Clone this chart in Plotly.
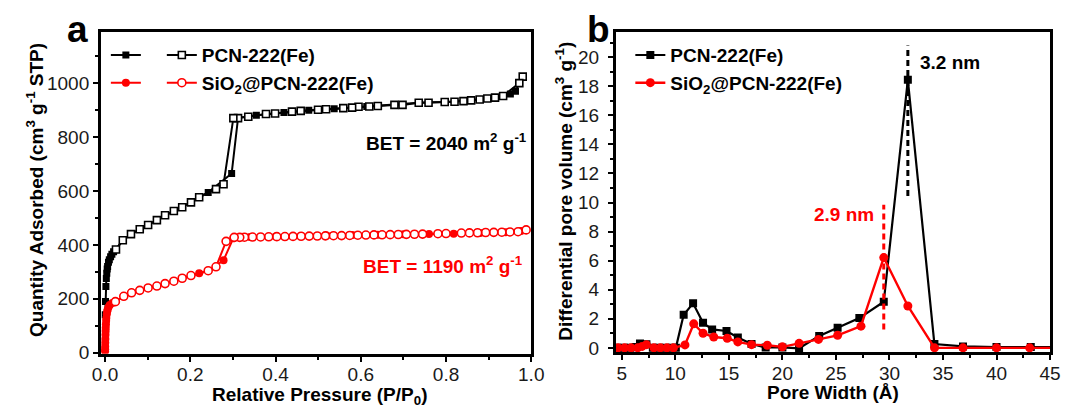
import plotly.graph_objects as go

# ---------------- Panel a : N2 isotherms ----------------
pcn_ads_p = [0.0005, 0.001, 0.002, 0.003, 0.004, 0.005, 0.006, 0.008, 0.010, 0.013, 0.016, 0.020, 0.0256,
             0.0416, 0.0608, 0.0814, 0.101, 0.1216, 0.1408, 0.1614, 0.181, 0.2016, 0.2208, 0.242, 0.297, 0.312,
             0.355, 0.4197, 0.478, 0.5376, 0.614, 0.679, 0.736, 0.797, 0.859, 0.915, 0.951, 0.963, 0.980]
pcn_ads_q = [140, 190, 245, 275, 295, 310, 320, 335, 345, 356, 365, 374, 383,
             417, 440, 458, 474, 492, 510, 526, 540, 558, 577, 595, 665, 871,
             882, 892, 900, 906, 914, 920, 928, 931, 937, 947, 961, 971, 1025]

pcn_des_p = [0.980, 0.972, 0.934, 0.915, 0.897, 0.879, 0.859, 0.841, 0.820, 0.797, 0.759, 0.736, 0.698, 0.679,
             0.640, 0.620, 0.5947, 0.5797, 0.559, 0.5186, 0.4997, 0.459, 0.4386, 0.399, 0.3776, 0.336, 0.312,
             0.301, 0.278, 0.2603, 0.2208, 0.2016, 0.181, 0.1614, 0.1408, 0.1216, 0.101, 0.0814, 0.0608,
             0.0416, 0.0256]
pcn_des_q = [1025, 1001, 953, 947, 944, 940, 937, 934, 932, 931, 928, 928, 920, 920,
             916, 914, 913, 910, 908, 904, 902, 898, 895, 888, 886, 876, 871,
             871, 625, 607, 577, 558, 540, 526, 510, 492, 474, 458, 440,
             417, 383]

sio2_ads_p = [0.0001, 0.0002, 0.0003, 0.0005, 0.0007, 0.001, 0.0013, 0.0016, 0.002, 0.0025, 0.003, 0.004,
              0.005, 0.006, 0.008, 0.011, 0.017, 0.0242, 0.0439, 0.0622, 0.0814, 0.101, 0.1216, 0.1408,
              0.1614, 0.181, 0.2016, 0.2208, 0.242, 0.278, 0.301, 0.340, 0.400, 0.460, 0.520, 0.580, 0.640,
              0.700, 0.760, 0.818, 0.880, 0.940, 0.976]
sio2_ads_q = [5, 12, 22, 36, 50, 66, 80, 92, 105, 118, 128, 142,
              152, 159, 168, 177, 184, 189, 209, 222, 231, 240, 247, 256,
              265, 276, 286, 294.5, 304, 343, 425, 429, 431, 433, 435, 437, 438,
              439, 440, 441, 444, 447, 452]

sio2_des_p = [0.988, 0.969, 0.950, 0.931, 0.912, 0.893, 0.874, 0.855, 0.836, 0.800, 0.781, 0.745, 0.726,
              0.707, 0.688, 0.669, 0.650, 0.631, 0.612, 0.593, 0.574, 0.555, 0.536, 0.517, 0.498, 0.479,
              0.460, 0.441, 0.422, 0.403, 0.384, 0.365, 0.346, 0.327, 0.316, 0.303, 0.284, 0.2603, 0.242,
              0.2016, 0.181, 0.1614, 0.1408, 0.1216, 0.101, 0.0814, 0.0622, 0.0439, 0.0242]
sio2_des_q = [455.6, 449, 448, 447, 446.5, 446, 445, 444.5, 444, 442, 441.5, 440, 439.5,
              439, 438.5, 438, 437.5, 437, 436.5, 436, 435, 434.5, 434, 433.5, 433, 432.5,
              432, 431.5, 431, 430.5, 430, 429.5, 429, 428.5, 428, 428, 413, 318.5, 304,
              286, 276, 265, 256, 247, 240, 231, 222, 209, 189]

# ---------------- Panel b : pore size distribution ----------------
pcn_w = [4.6, 5.2, 5.8, 6.3, 6.7, 7.3, 7.9, 8.5, 9.1, 9.7, 10.05, 10.78, 11.66, 12.59, 13.44, 14.78, 15.84,
         17.12, 18.44, 20.0, 21.56, 23.44, 25.16, 27.19, 29.47, 31.72, 34.2, 36.87, 40.0, 43.2, 46.5]
pcn_v = [0.0, 0.0, 0.0, 0.05, 0.3, 0.25, 0.0, 0.0, 0.0, 0.0, 0.0, 2.28, 3.06, 1.72, 1.27, 1.16, 0.71,
         0.26, 0.03, 0.03, -0.03, 0.82, 1.38, 2.05, 3.17, 18.44, 0.26, 0.1, 0.05, 0.05, 0.05]

sio2_w = [4.65, 5.26, 5.87, 6.48, 6.9, 7.3, 8.0, 8.61, 9.22, 9.83, 10.9, 11.72, 12.59, 13.59, 14.85,
          15.84, 17.12, 18.59, 20.0, 21.56, 23.37, 25.16, 27.34, 29.47, 31.72, 34.21, 36.87, 40.0, 43.1, 46.5]
sio2_v = [0.0, 0.0, 0.0, 0.0, 0.1, 0.22, 0.0, 0.0, 0.0, 0.0, 0.2, 1.65, 1.0, 0.75, 0.66,
          0.41, 0.22, 0.18, 0.07, 0.31, 0.58, 0.86, 1.49, 6.21, 2.88, 0.0, 0.0, 0.0, 0.0, 0.0]

# peak markers (dashed) and labels
peak_pcn_w, peak_pcn_range = 31.72, [10.45, 20.8]
peak_sio2_w, peak_sio2_range = 29.47, [1.27, 9.84]
names = ["PCN-222(Fe)", "SiO<sub>2</sub>@PCN-222(Fe)"]

BLACK = "#000000"
RED = "#ff0000"
FONT = "Liberation Sans, Arial, sans-serif"

fig = go.Figure()

# panel a: filled (adsorption) markers in legend, open (desorption) markers in legend2
fig.add_trace(go.Scatter(x=pcn_ads_p, y=pcn_ads_q, mode="lines+markers", name=" ",
                         line=dict(color=BLACK, width=2), marker=dict(symbol="square", size=7, color=BLACK),
                         xaxis="x", yaxis="y", legend="legend"))
fig.add_trace(go.Scatter(x=sio2_ads_p, y=sio2_ads_q, mode="lines+markers", name=" ",
                         line=dict(color=RED, width=2), marker=dict(symbol="circle", size=8, color=RED),
                         xaxis="x", yaxis="y", legend="legend"))
fig.add_trace(go.Scatter(x=pcn_des_p, y=pcn_des_q, mode="lines+markers", name=names[0],
                         line=dict(color=BLACK, width=2),
                         marker=dict(symbol="square", size=7, color="white", line=dict(color=BLACK, width=1.6)),
                         xaxis="x", yaxis="y", legend="legend2"))
fig.add_trace(go.Scatter(x=sio2_des_p, y=sio2_des_q, mode="lines+markers", name=names[1],
                         line=dict(color=RED, width=2),
                         marker=dict(symbol="circle", size=8, color="white", line=dict(color=RED, width=1.6)),
                         xaxis="x", yaxis="y", legend="legend2"))

# panel b
fig.add_trace(go.Scatter(x=pcn_w, y=pcn_v, mode="lines+markers", name=names[0],
                         line=dict(color=BLACK, width=2.2), marker=dict(symbol="square", size=8, color=BLACK),
                         xaxis="x2", yaxis="y2", legend="legend3"))
fig.add_trace(go.Scatter(x=sio2_w, y=sio2_v, mode="lines+markers", name=names[1],
                         line=dict(color=RED, width=2.4), marker=dict(symbol="circle", size=9, color=RED),
                         xaxis="x2", yaxis="y2", legend="legend3"))

fig.add_trace(go.Scatter(x=[peak_pcn_w, peak_pcn_w], y=peak_pcn_range, mode="lines", showlegend=False,
                         line=dict(color=BLACK, width=3, dash="6px,4px"), xaxis="x2", yaxis="y2"))
fig.add_trace(go.Scatter(x=[peak_sio2_w, peak_sio2_w], y=peak_sio2_range, mode="lines", showlegend=False,
                         line=dict(color=RED, width=3, dash="6px,4px"), xaxis="x2", yaxis="y2"))

axis_common = dict(showline=True, linewidth=2.5, linecolor=BLACK, mirror=True, showgrid=False, zeroline=False,
                   ticks="outside", ticklen=5, tickwidth=2, tickcolor=BLACK,
                   tickfont=dict(family=FONT, size=19, color="#1a1a1a"))
minor_common = dict(ticklen=3, tickwidth=1.5, ticks="outside", tickcolor=BLACK, showgrid=False)

fig.update_layout(
    width=1076, height=415, margin=dict(l=0, r=0, t=0, b=0),
    paper_bgcolor="white", plot_bgcolor="white",
    font=dict(family=FONT, size=19, color=BLACK),
    xaxis=dict(domain=[0.0871, 0.4957], range=[-0.01, 1.0005], dtick=0.2, tick0=0, tickformat=".1f",
               ticklabelstandoff=-3, minor=dict(dtick=0.1, **minor_common), **axis_common),
    yaxis=dict(domain=[0.1284, 0.9212], range=[-5, 1191], dtick=200, tick0=0,
               minor=dict(dtick=100, **minor_common), **axis_common),
    xaxis2=dict(domain=[0.5756, 0.9879], range=[4.43, 45.02], dtick=5, tick0=5, anchor="y2",
                ticklabelstandoff=-3, minor=dict(dtick=2.5, **minor_common), **axis_common),
    yaxis2=dict(domain=[0.1325, 0.9222], range=[-0.3, 21.76], dtick=2, tick0=0, anchor="x2",
                ticklabelstandoff=5, minor=dict(dtick=1, **minor_common), **axis_common),
    legend=dict(x=0.0919, y=0.911, xanchor="left", yanchor="top", bgcolor="rgba(0,0,0,0)",
                font=dict(family=FONT, size=19, color=BLACK), tracegroupgap=0, itemwidth=30),
    legend2=dict(x=0.1450, y=0.911, xanchor="left", yanchor="top", bgcolor="rgba(0,0,0,0)",
                 font=dict(family=FONT, size=19, color=BLACK, weight="bold"), tracegroupgap=0, itemwidth=30),
    legend3=dict(x=0.5895, y=0.911, xanchor="left", yanchor="top", bgcolor="rgba(0,0,0,0)",
                 font=dict(family=FONT, size=19, color=BLACK, weight="bold"), tracegroupgap=0, itemwidth=30),
    showlegend=True,
)

bold = lambda s: f"<b>{s}</b>"
annotations = [
    dict(text=bold("a"), xref="paper", yref="paper", x=70 / 1076, y=0.9275, showarrow=False,
         font=dict(size=37, family=FONT, color=BLACK), xanchor="center", yanchor="middle"),
    dict(text=bold("b"), xref="paper", yref="paper", x=601.5 / 1076, y=0.9275, showarrow=False,
         font=dict(size=37, family=FONT, color=BLACK), xanchor="center", yanchor="middle"),
    dict(text=bold("Quantity Adsorbed (cm<sup>3</sup> g<sup>-1</sup> STP)"), xref="paper", yref="paper",
         x=26.7 / 1076, y=0.5325, textangle=-90, showarrow=False, xanchor="center", yanchor="middle",
         font=dict(size=19, family=FONT, color=BLACK)),
    dict(text=bold("Relative Pressure (P/P<sub>0</sub>)"), xref="paper", yref="paper",
         x=316.8 / 1076, y=(415 - 404.5) / 415, showarrow=False, xanchor="center", yanchor="middle",
         font=dict(size=19, family=FONT, color=BLACK)),
    dict(text=bold("Differential pore volume (cm<sup>3</sup> g<sup>-1</sup>)"), xref="paper", yref="paper",
         x=566.5 / 1076, y=0.53, textangle=-90, showarrow=False, xanchor="center", yanchor="middle",
         font=dict(size=19, family=FONT, color=BLACK)),
    dict(text=bold("Pore Width (Å)"), xref="paper", yref="paper",
         x=840.9 / 1076, y=(415 - 401) / 415, showarrow=False, xanchor="center", yanchor="middle",
         font=dict(size=19, family=FONT, color=BLACK)),
    dict(text=bold("BET = 2040 m<sup>2</sup> g<sup>-1</sup>"), xref="x", yref="y", x=0.994, y=783,
         showarrow=False, xanchor="right", yanchor="middle", font=dict(size=19, family=FONT, color=BLACK)),
    dict(text=bold("BET = 1190 m<sup>2</sup> g<sup>-1</sup>"), xref="x", yref="y", x=0.985, y=326,
         showarrow=False, xanchor="right", yanchor="middle", font=dict(size=19, family=FONT, color=RED)),
    dict(text=bold("3.2 nm"), xref="x2", yref="y2", x=32.65, y=19.6, showarrow=False,
         xanchor="left", yanchor="middle", font=dict(size=19, family=FONT, color=BLACK)),
    dict(text=bold("2.9 nm"), xref="x2", yref="y2", x=28.75, y=9.2, showarrow=False,
         xanchor="right", yanchor="middle", font=dict(size=19, family=FONT, color=RED)),
]
fig.update_layout(annotations=annotations)

# remove the default 8px page margin so the figure sits at the window's top-left corner
fig.write_html("out.html", config={"displayModeBar": False},
               post_script="document.body.style.margin='0';document.body.style.padding='0';")
